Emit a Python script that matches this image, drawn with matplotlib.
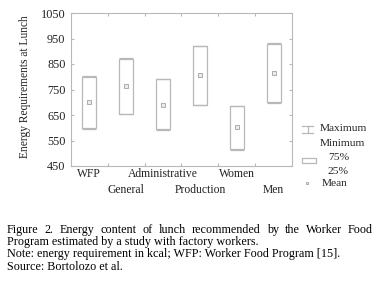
import matplotlib.pyplot as plt
from matplotlib.patches import Rectangle

plt.rcParams['font.family'] = ['Liberation Serif', 'DejaVu Serif']

# Data (kcal)
groups = ['WFP', 'General', 'Administrative', 'Production', 'Women', 'Men']
q1 = [600, 655, 595, 690, 517, 700]
q3 = [800, 870, 790, 920, 685, 930]
mins = [597, 652, 592, 688, 514, 697]
maxs = [802, 872, 792, 922, 687, 932]
means = [700, 765, 690, 805, 603, 815]
yticks = [450, 550, 650, 750, 850, 950, 1050]

EDGE = '#b8b8b8'
TXT = '#222222'
FS = 8.4

fig = plt.figure(figsize=(3.8, 2.84), dpi=100)
ax = fig.add_axes([71 / 380, 1 - 166 / 284, 221 / 380, 153 / 284])

bw = 0.38
for i in range(len(groups)):
    ax.add_patch(Rectangle((i - bw / 2, q1[i]), bw, q3[i] - q1[i],
                           facecolor='white', edgecolor=EDGE, lw=0.9))
    ax.hlines([mins[i], maxs[i]], i - bw / 2, i + bw / 2, color=EDGE, lw=0.9)
ax.plot(range(len(groups)), means, 's', ms=2.4, mfc='#ececec', mec='#a0a0a0', mew=0.6)

ax.set_xlim(-0.5, len(groups) - 0.5)
ax.set_ylim(450, 1050)
ax.set_yticks(yticks)
ax.set_xticks([i + 0.5 for i in range(len(groups) - 1)])
ax.set_xticklabels([])
ax.tick_params(direction='in', length=2, color=EDGE, top=True, right=True,
               labelsize=8.8, labelcolor=TXT, pad=4)
for s in ax.spines.values():
    s.set_color(EDGE)
    s.set_linewidth(0.8)

# staggered category labels
for i, g in enumerate(groups):
    y = -0.055 if i % 2 == 0 else -0.16
    ax.text(i, 450 + y * 600, g, ha='center', va='center', fontsize=FS, color=TXT)

fig.text(25 / 380, 1 - 87 / 284, 'Energy Requirements at Lunch', rotation=90,
         ha='center', va='center', fontsize=8.3, color=TXT)


def fx(px):
    return px / 380


def fy(py):
    return 1 - py / 284


# legend drawn by hand
fig.add_artist(plt.Line2D([fx(302), fx(313)], [fy(126), fy(126)], color=EDGE, lw=0.9))
fig.add_artist(plt.Line2D([fx(302), fx(313)], [fy(133), fy(133)], color=EDGE, lw=0.9))
fig.add_artist(plt.Line2D([fx(307.5), fx(307.5)], [fy(126), fy(133)], color=EDGE, lw=0.9))
fig.add_artist(Rectangle((fx(302), fy(163)), fx(14), 5 / 284, facecolor='white',
                         edgecolor=EDGE, lw=0.9, transform=fig.transFigure))
fig.add_artist(plt.Line2D([fx(307)], [fy(183)], marker='s', ms=2.0, mfc='#ececec',
                          mec='#a0a0a0', mew=0.6))
legend_items = [('Maximum', 320, 128), ('Minimum', 320, 143), ('75%', 328, 157),
                ('25%', 328, 171), ('Mean', 322, 184)]
for lab, x, y in legend_items:
    fig.text(fx(x), fy(y), lab, ha='left', va='center', fontsize=8.2, color=TXT)

# caption
CFS = 8.7
cap_lines = [
    'Figure 2. Energy content of lunch recommended by the Worker Food',
    'Program estimated by a study with factory workers.',
    'Note: energy requirement in kcal; WFP: Worker Food Program [15].',
    'Source: Bortolozo et al.',
]
cap_y = [230, 242.5, 254.5, 266.5]
left, right = 7, 373
renderer = fig.canvas.get_renderer()

# first line is justified: spread the words to the full width
words = cap_lines[0].split()
tmp = [fig.text(0, 0, w, fontsize=CFS) for w in words]
widths = [t.get_window_extent(renderer).width for t in tmp]
for t in tmp:
    t.remove()
gap = (right - left - sum(widths)) / (len(words) - 1)
x = left
for w, wd in zip(words, widths):
    fig.text(fx(x), fy(cap_y[0]), w, ha='left', va='center', fontsize=CFS, color='black')
    x += wd + gap
for line, y in zip(cap_lines[1:], cap_y[1:]):
    fig.text(fx(left), fy(y), line, ha='left', va='center', fontsize=CFS, color='black')

fig.savefig('out.png', dpi=100)
